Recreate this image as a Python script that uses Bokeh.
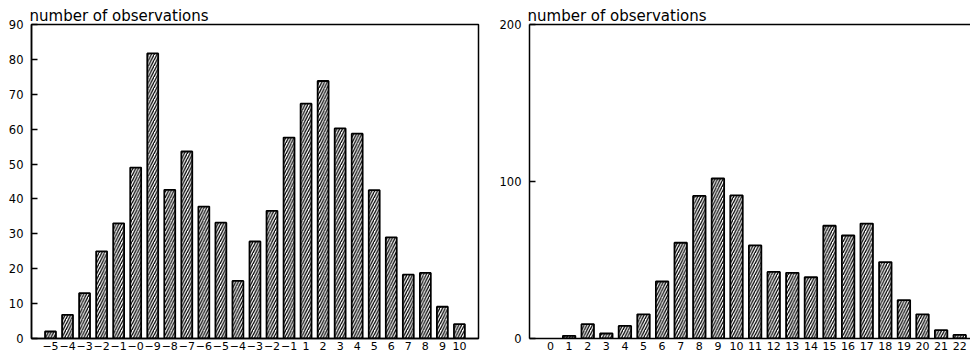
from bokeh.plotting import figure
from bokeh.layouts import row
from bokeh.models import Range1d, FixedTicker, LinearAxis, ColumnDataSource
from bokeh.embed import file_html
from bokeh.resources import INLINE

# ---- data ----
left_labels = ["−5", "−4", "−3", "−2", "−1", "−0", "−9", "−8", "−7", "−6", "−5", "−4", "−3",
               "−2", "−1", "1", "2", "3", "4", "5", "6", "7", "8", "9", "10"]
left_counts = [2, 6.8, 13, 25, 33, 49, 81.7, 42.6, 53.6, 37.8, 33.2, 16.5, 27.8,
               36.6, 57.6, 67.3, 73.8, 60.2, 58.7, 42.5, 29, 18.3, 18.8, 9.1, 4.1]
left_yticks = [0, 10, 20, 30, 40, 50, 60, 70, 80, 90]

right_labels = ["0", "1", "2", "3", "4", "5", "6", "7", "8", "9", "10", "11",
                "12", "13", "14", "15", "16", "17", "18", "19", "20", "21", "22"]
right_counts = [0, 1.7, 9.1, 3.2, 8, 15.4, 36.3, 61, 90.8, 101.9, 91.1, 59.3,
                42.4, 41.8, 39, 71.8, 65.6, 73.2, 48.7, 24.5, 15.4, 5.3, 2.3]
right_yticks = [0, 100, 200]

title_text = "number of observations"
FONT = "DejaVu Sans"


def make(labels, counts, yticks, ymax, width, borders, xr, bar_w, box):
    xs = list(range(len(labels)))
    keep = [i for i in xs if counts[i] > 0]
    src = ColumnDataSource(dict(x=[xs[i] for i in keep], top=[counts[i] for i in keep]))
    bl, br, bt, bb = borders
    p = figure(width=width, height=354, output_backend="svg", toolbar_location=None,
               x_range=Range1d(*xr), y_range=Range1d(0, ymax),
               min_border_left=bl, min_border_right=br,
               min_border_top=bt, min_border_bottom=bb,
               background_fill_color="white", border_fill_color="white")
    p.vbar(x="x", top="top", width=bar_w, source=src, fill_color="white",
           line_color="black", line_width=1.8,
           hatch_pattern="/", hatch_color="black", hatch_scale=5.5, hatch_weight=1.3)
    p.xgrid.grid_line_color = None
    p.ygrid.grid_line_color = None

    p.title.text = title_text
    p.title.align = "left"
    p.title.text_font = FONT
    p.title.text_font_size = "15px"
    p.title.text_font_style = "normal"
    p.title.text_color = "black"
    p.title.standoff = 0
    p.title.offset = -2

    ya = p.yaxis[0]
    ya.ticker = FixedTicker(ticks=yticks)
    ya.major_tick_in = 6
    ya.major_tick_out = 0
    ya.minor_tick_line_color = None
    ya.axis_line_width = 1.5
    ya.major_tick_line_width = 1.5
    ya.major_label_standoff = 8
    ya.major_label_text_font = FONT
    ya.major_label_text_font_size = "11.5px"
    ya.major_label_text_color = "black"

    xa = p.xaxis[0]
    xa.ticker = FixedTicker(ticks=xs)
    xa.major_label_overrides = {i: labels[i] for i in xs}
    xa.major_tick_in = 0
    xa.major_tick_out = 0
    xa.minor_tick_line_color = None
    xa.axis_line_width = 1.5
    xa.major_label_standoff = 3
    xa.major_label_text_font = FONT
    xa.major_label_text_font_size = "11px"
    xa.major_label_text_color = "black"

    if box:
        p.outline_line_color = "black"
        p.outline_line_width = 1.5
        p.outline_line_alpha = 1.0
    else:
        p.outline_line_color = None
        top_axis = LinearAxis(ticker=FixedTicker(ticks=[]), axis_line_width=1.5,
                              major_tick_line_color=None, minor_tick_line_color=None)
        p.add_layout(top_axis, "above")
    return p


p1 = make(left_labels, left_counts, left_yticks, 90, 480,
          (31, 2, 24, 15), (-1.115, 25.12), 0.64, True)
p2 = make(right_labels, right_counts, right_yticks, 200, 490,
          (49, 0, 22, 16), (-1.13, 22.58), 0.67, False)

layout = row(p1, p2)
open("out.html", "w").write(file_html(layout, INLINE))
